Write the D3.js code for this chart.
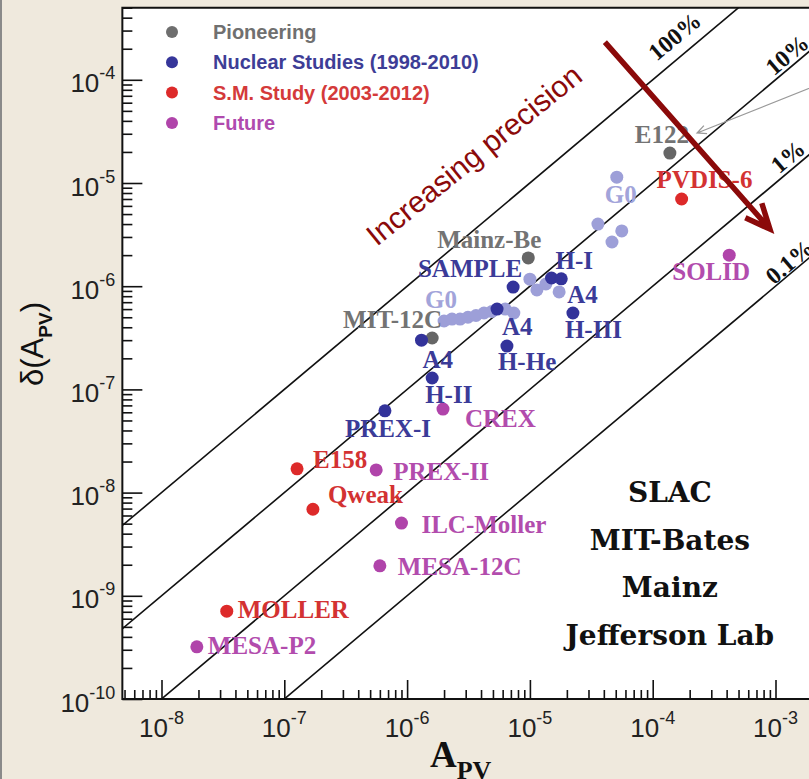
<!DOCTYPE html>
<html>
<head>
<meta charset="utf-8">
<script src="https://cdn.jsdelivr.net/npm/d3@7"></script>
<style>
    body { margin: 0; background: #efe9dd; }
    svg { display: block; }
    .sans { font-family: "Liberation Sans", Arial, Helvetica, sans-serif; }
    .serif { font-family: "Liberation Serif", "Times New Roman", serif; font-weight: bold; }
</style>
</head>
<body>
<div id="chart"></div>
<script>
"use strict"

// Data: [label, A_PV, delta(A_PV)]
var pioneering = [
    ["E122", 1.38e-4, 1.95e-5],
    ["Mainz-Be", 9.7e-6, 1.88e-6],
    ["MIT-12C", 1.6e-6, 3.15e-7]
];
var nuclear = [
    ["SAMPLE", 7.3e-6, 9.8e-7],
    ["H-I", 1.5e-5, 1.2e-6],
    ["A4", 1.8e-5, 1.18e-6],
    ["H-III", 2.24e-5, 5.5e-7],
    ["A4", 5.4e-6, 6.0e-7],
    ["H-He", 6.5e-6, 2.63e-7],
    ["A4", 1.31e-6, 3.0e-7],
    ["H-II", 1.6e-6, 1.29e-7],
    ["PREX-I", 6.6e-7, 6.2e-8]
];
// G0 runs (drawn pale, only two of them labelled)
var g0 = [
    ["G0", 2.0e-6, 4.6e-7], ["", 2.32e-6, 4.8e-7], ["", 2.7e-6, 4.8e-7], ["", 3.13e-6, 5.0e-7],
    ["", 3.64e-6, 5.2e-7], ["", 4.23e-6, 5.5e-7], ["", 4.91e-6, 5.7e-7], ["", 6.3e-6, 6.0e-7],
    ["", 7.4e-6, 5.5e-7], ["", 1.0e-5, 1.17e-6], ["", 1.14e-5, 9.2e-7], ["", 1.35e-5, 1.05e-6],
    ["", 1.73e-5, 8.8e-7], ["", 3.58e-5, 4.0e-6], ["", 4.66e-5, 2.68e-6], ["", 5.6e-5, 3.43e-6],
    ["G0", 5.1e-5, 1.14e-5]
];
var smStudy = [
    ["PVDIS-6", 1.72e-4, 7.0e-6],
    ["E158", 1.27e-7, 1.7e-8],
    ["Qweak", 1.71e-7, 6.9e-9],
    ["MOLLER", 3.4e-8, 7.1e-10]
];
var future = [
    ["SOLID", 4.2e-4, 2.0e-6],
    ["CREX", 1.96e-6, 6.45e-8],
    ["PREX-II", 5.6e-7, 1.66e-8],
    ["ILC-Moller", 9.0e-7, 5.07e-9],
    ["MESA-12C", 6.0e-7, 1.95e-9],
    ["MESA-P2", 1.94e-8, 3.2e-10]
];
var legendNames = ["Pioneering", "Nuclear Studies (1998-2010)", "S.M. Study (2003-2012)", "Future"];
var precisions = [1, 0.1, 0.01, 0.001];
var precisionNames = ["100%", "10%", "1%", "0.1%"];
var labs = ["SLAC", "MIT-Bates", "Mainz", "Jefferson Lab"];
var xTicks = [-8, -7, -6, -5, -4, -3];
var yTicks = [-10, -9, -8, -7, -6, -5, -4];

// label offsets from each dot: [dx, dy, anchor]
var pioneeringPos = [[-8, -10, "middle"], [13, -10, "end"], [10, -10, "end"]];
var nuclearPos = [[9, -10, "end"], [4, -9, "start"], [6, 24, "start"], [-8, 25, "start"], [5, 26, "start"],
    [-9, 24, "start"], [1, 28, "start"], [-7, 25, "start"], [-40, 26, "start"]];
var g0Pos = { 0: [-19, -13, "start"], 16: [-12, 26, "start"] };
var smPos = [[-25, -11, "start"], [16, -1, "start"], [15, -6, "start"], [11, 7, "start"]];
var futurePos = [[-57, 25, "start"], [22, 18, "start"], [17, 10, "start"], [20, 10, "start"], [18, 9, "start"], [11, 7, "start"]];

var width = 809, height = 779;
var xMin = 4.8e-9, xMax = 3e-3, yMin = 1e-10, yMax = 5e-4;

var x = d3.scaleLog().domain([1e-8, 1e-3]).range([161.5, 161.5 + 5 * 122.8]);
var y = d3.scaleLog().domain([1e-10, 1e-4]).range([699, 699 - 6 * 103.2]);

var pLeft = x(xMin), pRight = x(xMax), pBottom = y(yMin), pTop = y(yMax);

var svg = d3.select("#chart").append("svg")
    .attr("width", width)
    .attr("height", height);

svg.append("rect").attr("width", width).attr("height", height).attr("fill", "#efe9dd");
svg.append("rect").attr("width", 2).attr("height", height).attr("fill", "#8a8a8a");

svg.append("defs").append("clipPath").attr("id", "plot")
    .append("rect").attr("x", pLeft).attr("y", pTop)
    .attr("width", pRight - pLeft).attr("height", pBottom - pTop);

svg.append("rect")
    .attr("x", pLeft).attr("y", pTop)
    .attr("width", pRight - pLeft).attr("height", pBottom - pTop)
    .attr("fill", "#fff");

var plot = svg.append("g").attr("clip-path", "url(#plot)");

// constant relative precision lines
plot.selectAll(".prec").data(precisions).enter().append("line")
    .attr("x1", x(xMin / 2)).attr("y1", function (p) { return y(p * xMin / 2); })
    .attr("x2", x(xMax * 2)).attr("y2", function (p) { return y(p * xMax * 2); })
    .attr("stroke", "#111").attr("stroke-width", 1.6);

// percent labels sit a little above their line
var angle = -Math.atan((y(1e-9) - y(1e-8)) / (x(1e-8) - x(1e-9))) * 180 / Math.PI;
var precLabelAt = [1.9e-4, 1.43e-3, 1.46e-3, 1.46e-3];
var precLabelOff = [19, 11.5, 12, 9.5];
plot.selectAll(".precLab").data(precisions).enter().append("text")
    .attr("class", "serif")
    .attr("transform", function (p, i) {
        var a = precLabelAt[i];
        return "translate(" + x(a) + "," + y(p * a) + ") rotate(" + angle + ")";
    })
    .attr("y", function (p, i) { return -precLabelOff[i]; })
    .attr("dy", "0.33em")
    .attr("text-anchor", "middle")
    .style("font-size", "24px")
    .attr("fill", "#111")
    .text(function (p, i) { return precisionNames[i]; });

var groups = [
    { rows: g0, pos: g0Pos, dot: "#9d9fd8", ink: "#a2a4da" },
    { rows: pioneering, pos: pioneeringPos, dot: "#666", ink: "#737373" },
    { rows: nuclear, pos: nuclearPos, dot: "#33339a", ink: "#3b3b98" },
    { rows: smStudy, pos: smPos, dot: "#dd2a2a", ink: "#d33232" },
    { rows: future, pos: futurePos, dot: "#b044aa", ink: "#b24cad" }
];

groups.forEach(function (g) {
    plot.append("g").selectAll("circle").data(g.rows).enter().append("circle")
        .attr("cx", function (d) { return x(d[1]); })
        .attr("cy", function (d) { return y(d[2]); })
        .attr("r", 6.5)
        .attr("fill", g.dot);
});

groups.forEach(function (g) {
    var named = g.rows.map(function (d, i) { return [d, g.pos[i]]; })
        .filter(function (e) { return e[0][0] !== "" && e[1]; });
    plot.append("g").selectAll("text").data(named).enter().append("text")
        .attr("class", "serif")
        .attr("x", function (e) { return x(e[0][1]) + e[1][0]; })
        .attr("y", function (e) { return y(e[0][2]) + e[1][1]; })
        .attr("text-anchor", function (e) { return e[1][2]; })
        .style("font-size", "25px")
        .attr("fill", g.ink)
        .text(function (e) { return e[0][0]; });
});

// "Increasing precision" arrow
var arrowFrom = [4.08e-5, 2.32e-4], arrowTo = [9.0e-4, 3.58e-6];
var ax1 = x(arrowFrom[0]), ay1 = y(arrowFrom[1]), ax2 = x(arrowTo[0]), ay2 = y(arrowTo[1]);
var th = Math.atan2(ay2 - ay1, ax2 - ax1), wing = 27, spread = 0.42;
plot.append("path")
    .attr("d", "M" + ax1 + "," + ay1 + "L" + ax2 + "," + ay2 +
        "M" + (ax2 - wing * Math.cos(th + spread)) + "," + (ay2 - wing * Math.sin(th + spread)) +
        "L" + ax2 + "," + ay2 +
        "L" + (ax2 - wing * Math.cos(th - spread)) + "," + (ay2 - wing * Math.sin(th - spread)))
    .attr("fill", "none").attr("stroke", "#8b0a0a").attr("stroke-width", 5.5)
    .attr("stroke-linejoin", "miter");

plot.append("text")
    .attr("class", "sans")
    .attr("transform", "translate(" + x(3.5e-6) + "," + y(1.87e-5) + ") rotate(-39)")
    .attr("text-anchor", "middle")
    .attr("dy", "0.35em")
    .style("font-size", "30px")
    .attr("fill", "#8b0a0a")
    .text("Increasing precision");

// thin grey pointer to E122
var pFrom = [2.78e-3, 9.95e-5], pTo = [2.3e-4, 3.05e-5];
var px1 = x(pFrom[0]), py1 = y(pFrom[1]), px2 = x(pTo[0]), py2 = y(pTo[1]);
var ph = Math.atan2(py2 - py1, px2 - px1);
plot.append("path")
    .attr("d", "M" + px1 + "," + py1 + "L" + px2 + "," + py2 +
        "M" + (px2 - 10 * Math.cos(ph + 0.45)) + "," + (py2 - 10 * Math.sin(ph + 0.45)) +
        "L" + px2 + "," + py2 +
        "L" + (px2 - 10 * Math.cos(ph - 0.45)) + "," + (py2 - 10 * Math.sin(ph - 0.45)))
    .attr("fill", "none").attr("stroke", "#9a9a9a").attr("stroke-width", 1.3);

// lab names
plot.selectAll(".lab").data(labs).enter().append("text")
    .attr("x", x(1.38e-4))
    .attr("y", function (d, i) { return y(8.1e-9) + i * 47.7; })
    .attr("text-anchor", "middle")
    .style("font-family", "'DejaVu Serif', serif")
    .style("font-weight", "bold")
    .style("font-size", "28px")
    .attr("fill", "#111")
    .text(function (d) { return d; });

// legend
var legendColors = ["#6e6e6e", "#36369a", "#dd2a2a", "#b044aa"];
var legendInk = ["#707070", "#3d3d96", "#d43a3a", "#b04aae"];
var legend = svg.append("g").selectAll("g").data(legendNames).enter().append("g")
    .attr("transform", function (d, i) { return "translate(172," + (32 + i * 30.3) + ")"; });
legend.append("circle").attr("r", 6).attr("fill", function (d, i) { return legendColors[i]; });
legend.append("text")
    .attr("class", "sans")
    .attr("x", 41).attr("y", 7)
    .style("font-size", "20px").style("font-weight", "bold")
    .attr("fill", function (d, i) { return legendInk[i]; })
    .text(function (d) { return d; });

// minor ticks at 2..9 of each decade
function minors(lo, hi) {
    var out = [];
    for (var e = Math.floor(Math.log10(lo)) - 1; e <= Math.ceil(Math.log10(hi)); e++) {
        for (var m = 2; m <= 9; m++) {
            var v = m * Math.pow(10, e);
            if (v >= lo && v <= hi) out.push(v);
        }
    }
    return out;
}

var xMajor = xTicks.map(function (e) { return Math.pow(10, e); });
var yMajor = yTicks.map(function (e) { return Math.pow(10, e); });

var gx1 = svg.append("g").attr("transform", "translate(0," + pBottom + ")")
    .call(d3.axisBottom(x).tickValues(xMajor).tickSize(-19).tickFormat(""));
var gx2 = svg.append("g").attr("transform", "translate(0," + pBottom + ")")
    .call(d3.axisBottom(x).tickValues(minors(xMin, xMax)).tickSize(-9).tickFormat(""));
var gy1 = svg.append("g").attr("transform", "translate(" + pLeft + ",0)")
    .call(d3.axisLeft(y).tickValues(yMajor).tickSize(-20).tickFormat(""));
var gy2 = svg.append("g").attr("transform", "translate(" + pLeft + ",0)")
    .call(d3.axisLeft(y).tickValues(minors(yMin, yMax)).tickSize(-10).tickFormat(""));
[gx1, gx2, gy1, gy2].forEach(function (g) {
    g.select(".domain").remove();
    g.selectAll("line").attr("stroke", "#111").attr("stroke-width", 1.6);
});

// frame: left, bottom, top
svg.append("path")
    .attr("d", "M" + pRight + "," + pTop + "H" + pLeft + "V" + pBottom + "H" + pRight)
    .attr("fill", "none").attr("stroke", "#111").attr("stroke-width", 2);

// tick labels 10^n
var xl = svg.append("g").selectAll("text").data(xTicks).enter().append("text")
    .attr("class", "sans")
    .attr("x", function (e) { return x(Math.pow(10, e)); })
    .attr("y", pBottom + 38)
    .attr("text-anchor", "middle")
    .style("font-size", "26px").attr("fill", "#222");
xl.append("tspan").text("10");
xl.append("tspan").attr("dy", -13).style("font-size", "18px").text(function (e) { return e; });

var yl = svg.append("g").selectAll("text").data(yTicks).enter().append("text")
    .attr("class", "sans")
    .attr("x", pLeft - 7)
    .attr("y", function (e) { return y(Math.pow(10, e)) + 12.5; })
    .attr("text-anchor", "end")
    .style("font-size", "26px").attr("fill", "#222");
yl.append("tspan").text("10");
yl.append("tspan").attr("dy", -13).style("font-size", "18px").text(function (e) { return e; });

// axis titles
var xt = svg.append("text")
    .attr("class", "serif")
    .attr("x", 430).attr("y", 767)
    .style("font-size", "37px").attr("fill", "#111");
xt.append("tspan").text("A");
xt.append("tspan").attr("dy", 12).style("font-size", "26px").text("PV");

var yt = svg.append("text")
    .attr("class", "sans")
    .attr("transform", "translate(43,344) rotate(-90)")
    .attr("text-anchor", "middle")
    .style("font-size", "31px").attr("fill", "#111");
yt.append("tspan").text("\u03b4(A");
yt.append("tspan").attr("dy", 9).style("font-size", "19px").style("font-weight", "bold").text("PV");
yt.append("tspan").attr("dy", -9).text(")");
</script>
</body>
</html>
